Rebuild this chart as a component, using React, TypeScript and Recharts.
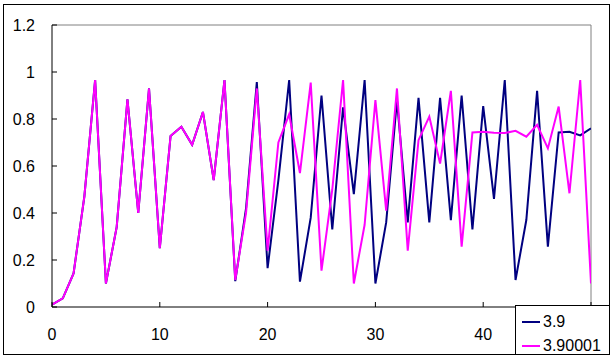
import React from 'react';
import { LineChart, Line, XAxis, YAxis, ReferenceLine, Legend } from 'recharts';

const steps = [
  0, 1, 2, 3, 4, 5, 6, 7, 8, 9, 10, 11, 12, 13, 14, 15, 16, 17, 18, 19, 20, 21, 22, 23, 24, 25,
  26, 27, 28, 29, 30, 31, 32, 33, 34, 35, 36, 37, 38, 39, 40, 41, 42, 43, 44, 45, 46, 47, 48, 49, 50,
];

const r390 = [
  0.01, 0.037, 0.143, 0.47, 0.966, 0.1, 0.34, 0.884, 0.4, 0.93, 0.25, 0.728, 0.767, 0.69, 0.83, 0.54,
  0.966, 0.11, 0.42, 0.957, 0.165, 0.54, 0.966, 0.108, 0.38, 0.9, 0.33, 0.85, 0.48, 0.966, 0.1, 0.36,
  0.88, 0.36, 0.89, 0.36, 0.89, 0.37, 0.9, 0.33, 0.855, 0.46, 0.966, 0.115, 0.37, 0.92, 0.257, 0.743,
  0.746, 0.73, 0.76,
];

const r390001 = [
  0.01, 0.037, 0.143, 0.47, 0.966, 0.1, 0.34, 0.884, 0.4, 0.93, 0.25, 0.728, 0.767, 0.69, 0.83, 0.54,
  0.966, 0.115, 0.4, 0.93, 0.24, 0.7, 0.82, 0.57, 0.955, 0.155, 0.5, 0.966, 0.1, 0.35, 0.88, 0.41,
  0.93, 0.24, 0.71, 0.81, 0.61, 0.92, 0.257, 0.743, 0.746, 0.742, 0.74, 0.75, 0.725, 0.775, 0.675,
  0.853, 0.484, 0.966, 0.1,
];

const seriesNames = ['3.9', '3.90001'];
const seriesColors = ['#000080', '#FF00FF'];
const xTicks = [0, 10, 20, 30, 40, 50];
// the last tick label sits under the legend box in the reference, so it is not shown
const xTickLabels = ['0', '10', '20', '30', '40', ''];
const yTicks = [0, 0.2, 0.4, 0.6, 0.8, 1, 1.2];

const data = steps.map((n, i) => ({ n, a: r390[i], b: r390001[i] }));

const FONT = '"Liberation Sans", Arial, sans-serif';

const renderLegend = () => (
  <div
    style={{
      width: 95,
      height: 50,
      boxSizing: 'border-box',
      border: '1px solid #000',
      background: '#fff',
      fontFamily: FONT,
      fontSize: 16,
      color: '#000',
      paddingTop: 4,
    }}
  >
    {seriesNames.map((name, i) => (
      <div key={name} style={{ display: 'flex', alignItems: 'center', height: 24, paddingLeft: 6 }}>
        <span style={{ display: 'inline-block', width: 18, height: 2, background: seriesColors[i], marginRight: 3 }} />
        <span style={{ lineHeight: '24px' }}>{name}</span>
      </div>
    ))}
  </div>
);

export default function App() {
  return (
    <div style={{ position: 'absolute', left: 0, top: 0, width: 615, height: 359, background: '#fff' }}>
      <div
        style={{
          position: 'absolute',
          left: 3,
          top: 4,
          width: 607,
          height: 351,
          border: '1px solid #000',
          boxSizing: 'border-box',
        }}
      />
      <div style={{ position: 'absolute', left: 0, top: 0 }}>
        <LineChart width={615} height={359} data={data} margin={{ top: 25, right: 24, bottom: 22, left: 12 }}>
          <XAxis
            dataKey="n"
            type="number"
            domain={[0, 50]}
            ticks={xTicks}
            tickFormatter={(v: number) => xTickLabels[xTicks.indexOf(v)] ?? String(v)}
            height={30}
            tickSize={-5}
            tickMargin={27}
            axisLine={{ stroke: '#000', strokeWidth: 1 }}
            tickLine={{ stroke: '#000' }}
            tick={{ fill: '#000', fontSize: 16, fontFamily: FONT }}
            allowDataOverflow
          />
          <YAxis
            type="number"
            domain={[0, 1.2]}
            ticks={yTicks}
            width={40}
            tickSize={-5}
            tickMargin={22}
            axisLine={{ stroke: '#000', strokeWidth: 1 }}
            tickLine={{ stroke: '#000' }}
            tick={{ fill: '#000', fontSize: 16, fontFamily: FONT }}
            allowDataOverflow
          />
          <ReferenceLine y={1.2} stroke="#808080" strokeWidth={1} />
          <ReferenceLine x={50} stroke="#808080" strokeWidth={1} />
          <Line
            type="linear"
            dataKey="a"
            name={seriesNames[0]}
            stroke={seriesColors[0]}
            strokeWidth={2}
            dot={false}
            isAnimationActive={false}
          />
          <Line
            type="linear"
            dataKey="b"
            name={seriesNames[1]}
            stroke={seriesColors[1]}
            strokeWidth={2}
            dot={false}
            isAnimationActive={false}
          />
          <Legend
            layout="horizontal"
            verticalAlign="middle"
            align="center"
            content={renderLegend}
            wrapperStyle={{ position: 'absolute', left: 515, top: 305, width: 95, height: 50 }}
          />
        </LineChart>
      </div>
    </div>
  );
}
